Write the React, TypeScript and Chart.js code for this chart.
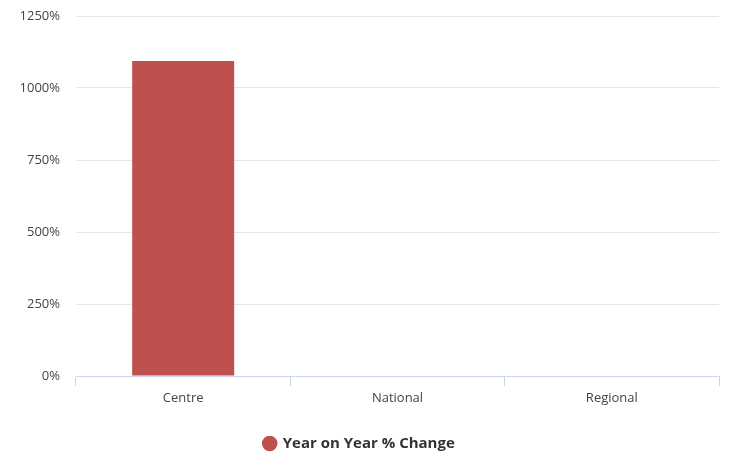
import React, { useEffect, useRef } from "react";
import { Chart, registerables } from "chart.js";

Chart.register(...registerables);

const categories = ["Centre", "National", "Regional"];
const seriesName = "Year on Year % Change";
const yoyChange = [1094, 0, 0];
const yTicks = [0, 250, 500, 750, 1000, 1250];

export default function App() {
  const ref = useRef<HTMLCanvasElement | null>(null);
  useEffect(() => {
    if (!ref.current) return;
    const chart = new Chart(ref.current, {
      type: "bar",
      data: {
        labels: categories,
        datasets: [
          {
            label: seriesName,
            data: yoyChange,
            backgroundColor: "#c0504d",
            borderWidth: 0,
            barPercentage: 0.476,
            categoryPercentage: 1,
          },
        ],
      },
      options: {
        animation: false,
        responsive: true,
        maintainAspectRatio: false,
        layout: { padding: { top: 16, right: 10, left: 0, bottom: -6 } },
        plugins: {
          tooltip: { enabled: false },
          legend: {
            position: "bottom",
            labels: {
              usePointStyle: true,
              pointStyle: "circle",
              boxWidth: 11,
              boxHeight: 11,
              padding: 0,
              color: "#333333",
              font: { family: "'Open Sans', sans-serif", size: 15, weight: "bold" },
            },
          },
        },
        scales: {
          x: {
            grid: {
              display: true,
              drawOnChartArea: false,
              drawTicks: true,
              tickLength: 10,
              color: "#ccd6eb",
              offset: true,
            },
            border: { display: true, color: "#ccd6eb" },
            ticks: {
              color: "#444444",
              padding: 4,
              font: { family: "'Open Sans', sans-serif", size: 13 },
            },
            afterFit: (s: any) => {
              s.height = 60;
              s.paddingLeft = 0;
              s.paddingRight = 0;
            },
          },
          y: {
            min: 0,
            max: 1250,
            afterBuildTicks: (s: any) => {
              s.ticks = yTicks.map((v) => ({ value: v }));
            },
            grid: { color: "#e6e6e6", drawTicks: false },
            border: { display: false },
            ticks: {
              color: "#444444",
              padding: 16,
              font: { family: "'Open Sans', sans-serif", size: 13 },
              callback: (v: any) => v + "%",
            },
            afterFit: (s: any) => {
              s.width = 76;
              s.paddingTop = 0;
              s.paddingBottom = 0;
            },
          },
        },
      },
    });
    return () => chart.destroy();
  }, []);
  return (
    <div style={{ position: "fixed", left: 0, top: 0, width: 729, height: 455, background: "#fff" }}>
      <canvas ref={ref} />
    </div>
  );
}
